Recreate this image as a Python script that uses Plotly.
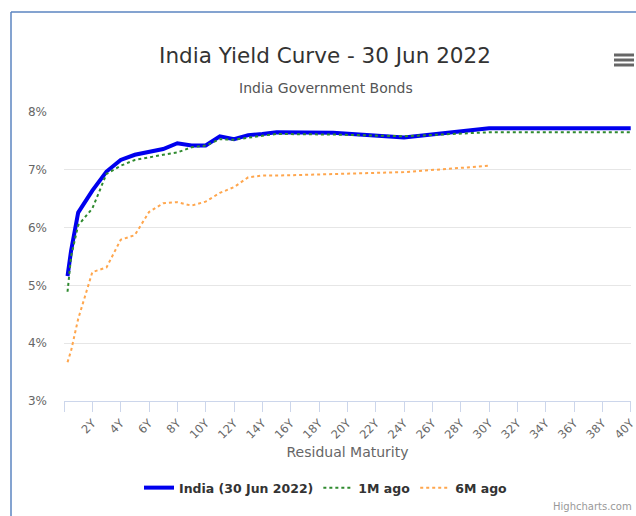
import plotly.graph_objects as go

# ---- data ----
maturity = [0.25, 0.5, 1, 2, 3, 4, 5, 6, 7, 8, 9, 10, 11, 12, 13, 14, 15, 19, 24, 30, 40]
india_now = [5.16, 5.60, 6.26, 6.64, 6.97, 7.17, 7.26, 7.31, 7.36, 7.46, 7.42, 7.42,
             7.58, 7.53, 7.60, 7.62, 7.65, 7.64, 7.56, 7.72, 7.72]
one_m_ago = [4.89, 5.50, 6.04, 6.33, 6.93, 7.07, 7.17, 7.22, 7.26, 7.30, 7.39, 7.42,
             7.53, 7.52, 7.56, 7.59, 7.62, 7.61, 7.58, 7.65, 7.65]
maturity_6m = [0.25, 0.5, 1, 2, 3, 4, 5, 6, 7, 8, 9, 10, 11, 12, 13, 14, 15, 19, 24, 30]
six_m_ago = [3.67, 3.87, 4.42, 5.23, 5.31, 5.79, 5.87, 6.27, 6.42, 6.44, 6.38, 6.45,
             6.60, 6.70, 6.87, 6.90, 6.90, 6.93, 6.96, 7.07]

x_tickvals = list(range(0, 41, 2))
x_ticktext = [""] + [f"{v}Y" for v in range(2, 41, 2)]
y_tickvals = [3, 4, 5, 6, 7, 8]
y_ticktext = [f"{v}%" for v in y_tickvals]

FONT = "DejaVu Sans"
W, H = 636, 516
L, R, T, B = 64, 5, 112, 115
pw, ph = W - L - R, H - T - B


def px(xp):
    return (xp - L) / pw


def py(yp):
    return (H - B - yp) / ph


fig = go.Figure()
fig.add_trace(go.Scatter(x=maturity, y=india_now, mode="lines", name="India (30 Jun 2022)",
                         line=dict(color="#0000ee", width=4)))
fig.add_trace(go.Scatter(x=maturity, y=one_m_ago, mode="lines", name="1M ago",
                         line=dict(color="#2f8a2f", width=2, dash="dot")))
fig.add_trace(go.Scatter(x=maturity_6m, y=six_m_ago, mode="lines", name="6M ago",
                         line=dict(color="#ffa64d", width=2, dash="dot")))

shapes = [
    # outer border (left & top)
    dict(type="line", xref="paper", yref="paper", x0=px(11), x1=px(11), y0=py(12), y1=py(530),
         line=dict(color="#5b85c1", width=1.5)),
    dict(type="line", xref="paper", yref="paper", x0=px(11), x1=px(650), y0=py(12), y1=py(12),
         line=dict(color="#5b85c1", width=1.5)),
]
for yy in (55, 60, 65):
    shapes.append(dict(type="line", xref="paper", yref="paper", x0=px(614), x1=px(634),
                       y0=py(yy), y1=py(yy), line=dict(color="#666666", width=3)))

fig.update_layout(
    width=W, height=H,
    margin=dict(l=L, r=R, t=T, b=B),
    paper_bgcolor="white", plot_bgcolor="white",
    font=dict(family=FONT, color="#333333"),
    title=dict(text="India Yield Curve - 30 Jun 2022", x=325 / W, xref="container",
               y=1 - 55 / H, yref="container", xanchor="center", yanchor="middle",
               font=dict(size=21.5, color="#333333", family=FONT)),
    showlegend=True,
    legend=dict(orientation="h", x=326 / W, xref="container", y=1 - 488 / H, yref="container",
                xanchor="center", yanchor="middle",
                font=dict(size=12.5, color="#333333", family=FONT, weight="bold"),
                itemwidth=30),
    xaxis=dict(range=[0, 40.02], tickvals=x_tickvals, ticktext=x_ticktext, tickangle=-45,
               showgrid=False, zeroline=False, showline=True, linecolor="#ccd6eb", linewidth=1,
               ticks="outside", ticklen=10, tickcolor="#ccd6eb",
               tickfont=dict(size=11.5, color="#666666"), ticklabeloverflow="allow",
               automargin=False,
               title=dict(text="Residual Maturity", font=dict(size=14, color="#666666"), standoff=6)),
    yaxis=dict(range=[3, 8], tickvals=y_tickvals, ticktext=y_ticktext, showgrid=True,
               gridcolor="#e6e6e6", gridwidth=1, zeroline=False, showline=False,
               tickfont=dict(size=12, color="#666666"), ticklabelstandoff=16),
    shapes=shapes,
    annotations=[
        dict(text="India Government Bonds", xref="paper", yref="paper", x=px(326), y=py(88),
             xanchor="center", yanchor="middle", showarrow=False,
             font=dict(size=14, color="#555555", family=FONT)),
        dict(text="Highcharts.com", xref="paper", yref="paper", x=px(634), y=py(506),
             xanchor="right", yanchor="middle", showarrow=False,
             font=dict(size=10, color="#999999", family=FONT)),
    ],
)

fig.write_html("out.html", config={"displayModeBar": False},
               post_script="document.body.style.margin='0';document.body.style.overflow='hidden';")
